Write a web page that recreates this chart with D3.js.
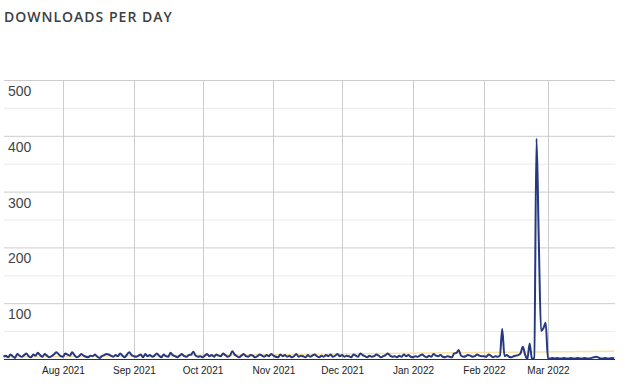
<!DOCTYPE html>
<html>
<head>
<meta charset="utf-8">
<script src="https://cdn.jsdelivr.net/npm/d3@7"></script>
<style>
  body { margin: 0; background: #fff; }
  svg text { font-family: "Liberation Sans", Arial, sans-serif; }
  .title { font-family: "Open Sans", sans-serif; font-weight: 600; font-size: 14px; letter-spacing: 1px; fill: #3c4043; }
</style>
</head>
<body>
<div id="chart"></div>
<script>
const startDate = '2021-07-06';

// daily downloads, one array per month
const jul = [4,6,3,8,5,2,9,6,4,7,10,5,3,8,6,11,7,4,9,6,3,5,8,12,9,5];
const aug = [4,10,8,6,12,7,3,5,9,6,4,3,6,5,8,4,2,5,7,9,8,6,4,7,5,10,6,3,8,12,7];
const sep = [5,4,6,8,3,9,5,7,4,6,10,6,3,8,5,4,11,7,5,3,6,9,5,4,7,8,13,6,4,5];
const oct = [3,6,9,5,7,4,8,6,5,10,7,4,6,14,8,5,3,6,9,5,4,7,6,3,5,8,6,4,7,5,9];
const nov = [6,4,3,8,5,7,4,6,3,5,9,4,6,5,3,7,4,6,8,5,3,6,4,7,5,8,4,6,9,5];
const dec = [7,4,6,5,3,8,6,4,10,7,5,3,6,4,5,8,6,3,5,7,10,6,4,5,3,6,4,8,5,7,4];
const jan = [3,5,4,6,8,5,3,6,4,9,6,5,7,4,3,5,4,3,10,11,16,6,4,5,7,6,4,5,8,6,5];
const feb = [5,4,8,6,3,5,4,6,54,5,7,4,3,5,6,7,10,22,8,0,28,0,2,395,210,50,55,65];
const mar = [1,1,2,1,2,1,1,2,1,1,2,1,1,2,1,1,2,1,1,2,3,4,3,1,1,2,1,1,2,1];

const yTicks = [100, 200, 300, 400, 500];
const yMinorTicks = [50, 150, 250, 350, 450];
const monthTicks = ['2021-08-01','2021-09-01','2021-10-01','2021-11-01','2021-12-01','2022-01-01','2022-02-01','2022-03-01'];

const width = 633, height = 391;
const plot = { left: 4, right: 615, top: 80, bottom: 359 };

const parse = d3.timeParse('%Y-%m-%d');
const values = [].concat(jul, aug, sep, oct, nov, dec, jan, feb, mar);
const t0 = parse(startDate);
const data = values.map((v, i) => ({ date: d3.timeDay.offset(t0, i), value: v }));

const svg = d3.select('#chart').append('svg')
  .attr('width', width)
  .attr('height', height);

svg.append('text')
  .attr('class', 'title')
  .attr('x', 4)
  .attr('y', 22)
  .text('DOWNLOADS PER DAY');

const x = d3.scaleTime()
  .domain(d3.extent(data, d => d.date))
  .range([plot.left - 0.5, plot.right - 0.7]);

const y = d3.scaleLinear()
  .domain([0, 500])
  .range([plot.bottom, plot.top]);

// minor gridlines
svg.append('g').selectAll('line')
  .data(yMinorTicks)
  .enter().append('line')
  .attr('x1', plot.left).attr('x2', plot.right)
  .attr('y1', d => y(d) + 0.5).attr('y2', d => y(d) + 0.5)
  .attr('stroke', '#ebebeb');

// major gridlines
svg.append('g').selectAll('line')
  .data(yTicks)
  .enter().append('line')
  .attr('x1', plot.left).attr('x2', plot.right)
  .attr('y1', d => y(d) + 0.5).attr('y2', d => y(d) + 0.5)
  .attr('stroke', '#cccccc');

// month gridlines
svg.append('g').selectAll('line')
  .data(monthTicks.map(parse))
  .enter().append('line')
  .attr('x1', d => Math.round(x(d)) + 0.5).attr('x2', d => Math.round(x(d)) + 0.5)
  .attr('y1', plot.top).attr('y2', plot.bottom)
  .attr('stroke', '#cccccc');

// y labels sit inside the plot, under each gridline
svg.append('g').selectAll('text')
  .data(yTicks)
  .enter().append('text')
  .attr('x', 8)
  .attr('y', d => y(d) + 16)
  .attr('font-size', 14)
  .attr('fill', '#444')
  .text(d => d);

// x axis labels
const xAxis = d3.axisBottom(x)
  .tickValues(monthTicks.map(parse))
  .tickFormat(d3.timeFormat('%b %Y'))
  .tickSize(0)
  .tickPadding(8);

const gx = svg.append('g')
  .attr('transform', `translate(0,${plot.bottom})`)
  .call(xAxis);
gx.select('.domain').remove();
gx.selectAll('text')
  .attr('font-family', '"Liberation Sans", Arial, sans-serif')
  .attr('font-size', 10)
  .attr('fill', '#222');

// linear trendline fitted to the data
const n = data.length;
const mx = d3.mean(data, (d, i) => i);
const my = d3.mean(data, d => d.value);
const slope = d3.sum(data, (d, i) => (i - mx) * (d.value - my)) / d3.sum(data, (d, i) => (i - mx) * (i - mx));
const trend = [0, n - 1].map(i => ({ date: data[i].date, value: my + slope * (i - mx) }));

svg.append('path')
  .datum(trend)
  .attr('fill', 'none')
  .attr('stroke', '#f6d98a')
  .attr('stroke-opacity', 0.8)
  .attr('stroke-width', 1.5)
  .attr('d', d3.line().x(d => x(d.date)).y(d => y(d.value)));

// main series
svg.append('path')
  .datum(data)
  .attr('fill', 'none')
  .attr('stroke', '#26387f')
  .attr('stroke-width', 2)
  .attr('stroke-linejoin', 'round')
  .attr('d', d3.line()
    .x(d => x(d.date))
    .y(d => y(d.value))
    .curve(d3.curveMonotoneX));

// baseline
svg.append('line')
  .attr('x1', plot.left).attr('x2', plot.right)
  .attr('y1', plot.bottom + 0.5).attr('y2', plot.bottom + 0.5)
  .attr('stroke', '#333')
  .attr('stroke-width', 1);
</script>
</body>
</html>
